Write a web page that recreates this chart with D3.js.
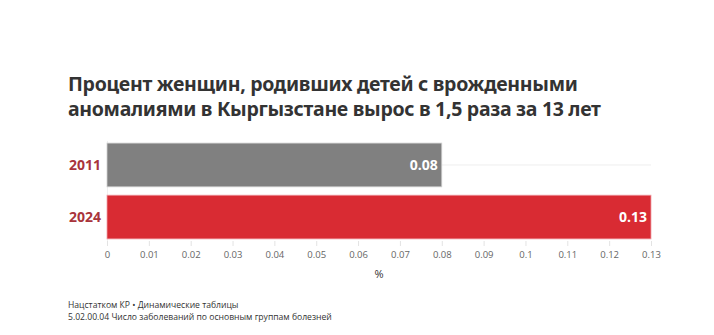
<!DOCTYPE html>
<html><head><meta charset="utf-8">
<script src="https://cdn.jsdelivr.net/npm/d3@7"></script>
<style>
body{margin:0;background:#fff;}
svg{display:block;}
</style></head>
<body><svg id="c" width="714" height="335"></svg>
<script>
const years = ["2011", "2024"];
const values = [0.08, 0.13];
const barColors = ["#808080", "#d92b33"];
const tickValues = [0,0.01,0.02,0.03,0.04,0.05,0.06,0.07,0.08,0.09,0.1,0.11,0.12,0.13];
const titleLines = ["Процент женщин, родивших детей с врожденными", "аномалиями в Кыргызстане вырос в 1,5 раза за 13 лет"];
const sourceLines = ["Нацстатком КР • Динамические таблицы", "5.02.00.04 Число заболеваний по основным группам болезней"];

const svg = d3.select("#c");
const font = "'Open Sans', 'Noto Sans', sans-serif";
svg.append("rect").attr("width",714).attr("height",335).attr("fill","#fff");

svg.append("g").selectAll("text").data(titleLines).join("text")
  .attr("x",68).attr("y",(d,i)=>91+i*25)
  .attr("font-family","'Noto Sans', sans-serif").attr("font-weight",700).attr("font-size",19.5)
  .attr("fill","#333").attr("letter-spacing",-0.3).text(d=>d);

const x = d3.scaleLinear().domain([0,0.13]).range([107,651]);
const y = d3.scaleBand().domain(years).range([141,241]).paddingInner(0.16).paddingOuter(0.04);

// grid lines
svg.append("g").selectAll("line").data(years).join("line")
  .attr("x1",x(0)).attr("x2",x(0.13))
  .attr("y1",d=>y(d)+y.bandwidth()/2).attr("y2",d=>y(d)+y.bandwidth()/2)
  .attr("stroke","#eeeeee").attr("stroke-width",1);
svg.append("line").attr("x1",x(0)+0.5).attr("x2",x(0)+0.5).attr("y1",141).attr("y2",241)
  .attr("stroke","#f0f0f0");

svg.append("g").selectAll("rect").data(years).join("rect")
  .attr("x",x(0)).attr("y",d=>y(d))
  .attr("width",(d,i)=>x(values[i])-x(0)).attr("height",y.bandwidth())
  .attr("fill",(d,i)=>barColors[i])
  .attr("stroke",(d,i)=>i==0?"#cfcfcf":"#f0a0a8").attr("stroke-width",0.8);

svg.append("g").selectAll("text").data(years).join("text")
  .attr("x",(d,i)=>x(values[i])-4).attr("y",d=>y(d)+y.bandwidth()/2)
  .attr("dy","0.35em").attr("text-anchor","end")
  .attr("font-family",font).attr("font-weight",700).attr("font-size",14)
  .attr("fill","#fff").text((d,i)=>values[i]);

svg.append("g").selectAll("text").data(years).join("text")
  .attr("x",101).attr("y",d=>y(d)+y.bandwidth()/2)
  .attr("dy","0.35em").attr("text-anchor","end")
  .attr("font-family",font).attr("font-weight",700).attr("font-size",14)
  .attr("fill","#a9343b").text(d=>d);

const ax = svg.append("g").attr("transform","translate(0,241)")
  .call(d3.axisBottom(x).tickValues(tickValues).tickSize(5).tickPadding(5).tickFormat(d=>String(d)));
ax.select(".domain").remove();
ax.selectAll(".tick line").attr("stroke","#e3e3e3");
ax.selectAll(".tick text").attr("font-family",font).attr("font-size",9.5).attr("fill","#666");

svg.append("text").attr("x",379).attr("y",278).attr("text-anchor","middle")
  .attr("font-family",font).attr("font-size",11).attr("fill","#333").text("%");

svg.append("g").selectAll("text").data(sourceLines).join("text")
  .attr("x",68).attr("y",(d,i)=>308+i*12)
  .attr("font-family",font).attr("font-size",8.6).attr("fill","#333").text(d=>d);
</script></body></html>
